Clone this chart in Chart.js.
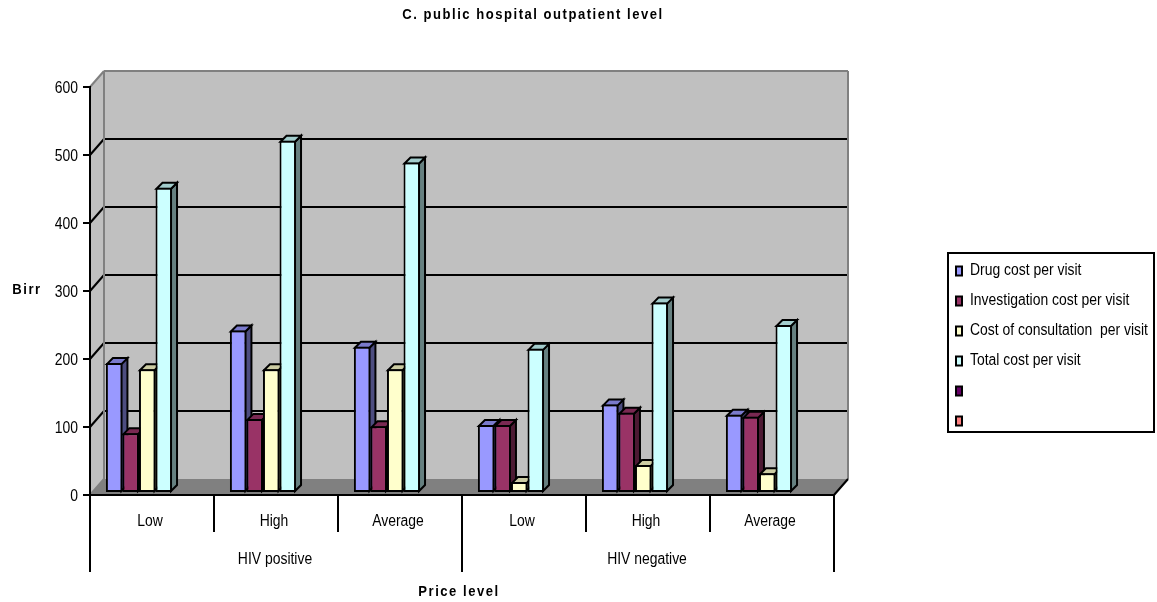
<!DOCTYPE html>
<html lang="en">
<head>
  <meta charset="UTF-8">
  <title>C. public hospital outpatient level</title>
  <script src="https://cdn.jsdelivr.net/npm/chart.js@4"></script>
  <style>
    body { margin: 0; background: #fff; }
    canvas { display: block; }
  </style>
</head>
<body>
  <canvas id="chart" width="1157" height="602"></canvas>

  <script>
    const priceLevels = ["Low", "High", "Average", "Low", "High", "Average"];
    const hivGroups = ["HIV positive", "HIV negative"];

    const drugCost = [191, 239, 215, 100, 130, 115];
    const investigationCost = [88, 109, 98, 100, 118, 112];
    const consultationCost = [182, 182, 182, 16, 41, 29];
    const totalCost = [449, 518, 486, 212, 280, 247];
    const emptySeries = [null, null, null, null, null, null];

    const chartTitle = "C. public hospital outpatient level";
    const yTitle = "Birr";
    const xTitle = "Price level";

    const font = "'Liberation Sans', sans-serif";

    // depth of the fake 3D box, and of each bar
    const wallX = 14, wallY = 16;
    const barShiftX = 3.5, barShiftY = 2, barDepth = 6;

    // the original font is a narrow Arial, which is not installed, so squeeze the text
    const squeeze = 0.87;
    const canvas = document.getElementById("chart");
    const rawCtx = canvas.getContext("2d");
    const rawFillText = rawCtx.fillText.bind(rawCtx);
    rawCtx.fillText = function (text, x, y, maxWidth) {
      rawCtx.save();
      rawCtx.translate(x, y);
      rawCtx.scale(squeeze, 1);
      if (maxWidth === undefined) rawFillText(text, 0, 0);
      else rawFillText(text, 0, 0, maxWidth / squeeze);
      rawCtx.restore();
    };

    function shade(hex, f) {
      const n = parseInt(hex.slice(1), 16);
      const c = [n >> 16, (n >> 8) & 255, n & 255].map(v => Math.round(v * f));
      return `rgb(${c[0]},${c[1]},${c[2]})`;
    }

    function poly(ctx, pts, fill) {
      ctx.beginPath();
      pts.forEach((p, i) => i ? ctx.lineTo(p[0], p[1]) : ctx.moveTo(p[0], p[1]));
      ctx.closePath();
      if (fill) { ctx.fillStyle = fill; ctx.fill(); }
    }

    function seg(ctx, x1, y1, x2, y2, color) {
      ctx.strokeStyle = color;
      ctx.lineWidth = 2;
      ctx.beginPath();
      ctx.moveTo(x1, y1);
      ctx.lineTo(x2, y2);
      ctx.stroke();
    }

    // bold captions in the original are letter-spaced
    function spaced(obj, method, ctx, dx) {
      const orig = obj[method];
      obj[method] = function () {
        ctx.save();
        ctx.translate(dx, 0);
        ctx.letterSpacing = "1.75px";
        orig.apply(this, arguments);
        ctx.restore();
      };
    }

    const box3d = {
      id: "box3d",
      afterLayout(chart) {
        // legend and title sit off their default spots
        const lg = chart.legend;
        lg.left = 942;
        lg.right = 1157;
        lg.top = 249;
        lg.bottom = 602;
        chart.titleBlock.left = 0;
        chart.titleBlock.right = 1066;
        if (!chart.$spaced) {
          spaced(chart.titleBlock, "draw", chart.ctx, 0);
          spaced(chart.scales.x2, "drawTitle", chart.ctx, -3);
          chart.$spaced = true;
        }
      },
      beforeDraw(chart) {
        const ctx = chart.ctx;
        const { left, right, top, bottom } = chart.chartArea;
        const y = chart.scales.y;
        ctx.save();
        poly(ctx, [[left + wallX, top - wallY], [right + wallX, top - wallY], [right + wallX, bottom - wallY], [left + wallX, bottom - wallY]], "#c0c0c0");
        poly(ctx, [[left, top], [left + wallX, top - wallY], [left + wallX, bottom - wallY], [left, bottom]], "#c0c0c0");
        poly(ctx, [[left, bottom], [left + wallX, bottom - wallY], [right + wallX, bottom - wallY], [right, bottom]], "#808080");

        y.ticks.forEach(t => {
          if (t.value === 0 || t.value === y.max) return;
          const py = y.getPixelForValue(t.value);
          seg(ctx, left, py, left + wallX, py - wallY, "#000");
          seg(ctx, left + wallX, py - wallY, right + wallX, py - wallY, "#000");
        });

        seg(ctx, left + wallX, top - wallY, right + wallX, top - wallY, "#808080");
        seg(ctx, left, top, left + wallX, top - wallY, "#808080");
        seg(ctx, left + wallX, top - wallY, left + wallX, bottom - wallY, "#808080");
        seg(ctx, right + wallX, top - wallY, right + wallX, bottom - wallY, "#808080");
        seg(ctx, left, bottom, left + wallX, bottom - wallY, "#808080");
        seg(ctx, right, bottom, right + wallX, bottom - wallY, "#000");

        ctx.fillStyle = "#000";
        ctx.font = "bold 15px " + font;
        ctx.letterSpacing = "1.75px";
        ctx.textAlign = "center";
        ctx.textBaseline = "middle";
        ctx.fillText(yTitle, 27, 290);
        ctx.restore();
      },
      // bars have to go left to right so a bar covers its neighbour's side face
      beforeDatasetDraw() {
        return false;
      },
      afterDatasetsDraw(chart) {
        const ctx = chart.ctx;
        ctx.save();
        ctx.translate(barShiftX, -barShiftY);
        chart.data.datasets.forEach((ds, i) => {
          chart.getDatasetMeta(i).data.forEach((bar, j) => {
            if (ds.data[j] === null) return;
            const p = bar.getProps(["x", "y", "base", "width"], true);
            const l = p.x - p.width / 2, r = p.x + p.width / 2;
            ctx.strokeStyle = "#000";
            ctx.lineWidth = 2;
            ctx.lineJoin = "miter";
            poly(ctx, [[r - 1, p.y + 1], [r - 1 + barDepth, p.y + 1 - barDepth], [r - 1 + barDepth, p.base - 1 - barDepth], [r - 1, p.base - 1]], shade(ds.backgroundColor, 0.5));
            ctx.stroke();
            poly(ctx, [[l + 1, p.y + 1], [l + 1 + barDepth, p.y + 1 - barDepth], [r - 1 + barDepth, p.y + 1 - barDepth], [r - 1, p.y + 1]], shade(ds.backgroundColor, 0.8));
            ctx.stroke();
            bar.draw(ctx);
          });
        });
        ctx.restore();

        // legend frame
        ctx.save();
        ctx.strokeStyle = "#000";
        ctx.lineWidth = 2;
        ctx.strokeRect(948, 253, 206, 179);
        ctx.restore();
      }
    };

    function series(label, data, color) {
      return {
        label: label,
        data: data,
        backgroundColor: color,
        borderColor: "#000",
        borderWidth: 2,
        borderSkipped: false,
        categoryPercentage: 0.8,
        barPercentage: 1
      };
    }

    new Chart(canvas, {
      type: "bar",
      data: {
        labels: priceLevels,
        datasets: [
          series("Drug cost per visit", drugCost, "#9999ff"),
          series("Investigation cost per visit", investigationCost, "#993366"),
          series("Cost of consultation  per visit", consultationCost, "#ffffcc"),
          series("Total cost per visit", totalCost, "#ccffff"),
          series("", emptySeries, "#660066"),
          series("", emptySeries, "#ff8080")
        ]
      },
      plugins: [box3d],
      options: {
        responsive: false,
        animation: false,
        layout: { padding: { left: 0, right: 323, top: 0, bottom: 0 } },
        plugins: {
          tooltip: { enabled: false },
          title: {
            display: true,
            text: chartTitle,
            color: "#000",
            font: { family: font, size: 15, weight: "bold" },
            padding: { top: 6, bottom: 63 }
          },
          legend: {
            position: "chartArea",
            align: "start",
            labels: {
              color: "#000",
              font: { family: font, size: 16 },
              boxWidth: 6,
              boxHeight: 9,
              padding: 14
            }
          }
        },
        scales: {
          x: {
            offset: true,
            border: { color: "#000", width: 2 },
            grid: { offset: true, drawOnChartArea: false, color: "#000", lineWidth: 2, tickLength: 37 },
            ticks: { color: "#000", font: { family: font, size: 16 }, padding: -20, labelOffset: -2, autoSkip: false, maxRotation: 0 },
            afterFit: s => { s.height = 37; }
          },
          x2: {
            type: "category",
            axis: "x",
            position: "bottom",
            labels: hivGroups,
            offset: true,
            border: { display: false },
            grid: { offset: true, drawOnChartArea: false, color: "#000", lineWidth: 2, tickLength: 40 },
            ticks: { color: "#000", font: { family: font, size: 16 }, padding: -22, labelOffset: -1, autoSkip: false, maxRotation: 0 },
            title: {
              display: true,
              text: xTitle,
              color: "#000",
              font: { family: font, size: 15, weight: "bold" },
              padding: { top: 0, bottom: 1 }
            },
            afterFit: s => { s.height = 70; }
          },
          y: {
            min: 0,
            max: 600,
            border: { color: "#000", width: 2 },
            grid: { drawOnChartArea: false, color: "#000", lineWidth: 2, tickLength: 7 },
            ticks: { color: "#000", font: { family: font, size: 16 }, stepSize: 100, padding: 5, labelOffset: 1.5 },
            afterFit: s => { s.width = 90; }
          }
        }
      }
    });
  </script>
</body>
</html>
